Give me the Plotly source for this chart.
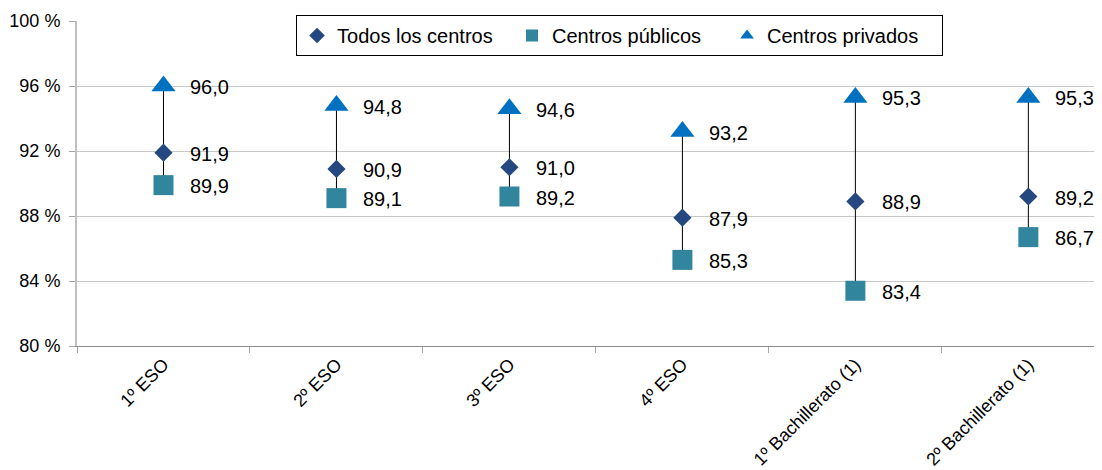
import plotly.graph_objects as go

categories = ["1º ESO", "2º ESO", "3º ESO", "4º ESO", "1º Bachillerato (1)", "2º Bachillerato (1)"]
todos = [91.9, 90.9, 91.0, 87.9, 88.9, 89.2]
publicos = [89.9, 89.1, 89.2, 85.3, 83.4, 86.7]
privados = [96.0, 94.8, 94.6, 93.2, 95.3, 95.3]
y_ticks = [80, 84, 88, 92, 96, 100]
y_tick_labels = [f"{v} %" for v in y_ticks]

FONT = "Liberation Sans, Arial, sans-serif"

fig = go.Figure()

# high-low lines
lx, ly = [], []
for c, a, b, d in zip(categories, todos, publicos, privados):
    lx += [c, c, None]
    ly += [min(a, b, d), max(a, b, d), None]
fig.add_trace(go.Scatter(x=lx, y=ly, mode="lines", line=dict(color="black", width=1),
                         showlegend=False, hoverinfo="skip"))

series = [
    ("Todos los centros", todos, "diamond", "#24487F", 14),
    ("Centros públicos", publicos, "square", "#31859C", 20),
    ("Centros privados", privados, "triangle-up", "#0070C0", 21),
]
for name, vals, sym, col, size in series:
    fig.add_trace(go.Scatter(x=categories, y=vals, mode="markers", name=name,
                             marker=dict(symbol=sym, color=col, size=size, line=dict(width=0))))

annotations = []
for _, vals, _, _, _ in series:
    for c, v in zip(categories, vals):
        annotations.append(dict(x=c, y=v, xref="x", yref="y", text=f"{v:.1f}".replace(".", ","),
                                showarrow=False, xanchor="left", yanchor="middle", xshift=25, yshift=-1,
                                font=dict(family=FONT, size=20, color="black")))

fig.update_layout(
    width=1094, height=462,
    margin=dict(l=69, r=1, t=13, b=124),
    paper_bgcolor="white", plot_bgcolor="white",
    font=dict(family=FONT, size=18, color="black"),
    annotations=annotations,
    showlegend=True,
    legend=dict(orientation="h", x=0.2139, y=1.0185, xanchor="left", yanchor="top",
                bordercolor="black", borderwidth=1, bgcolor="white",
                font=dict(family=FONT, size=20, color="black"), itemsizing="constant",
                itemwidth=30, entrywidth=170, tracegroupgap=0),
    xaxis=dict(type="category", range=[-0.5, 5.42], tickangle=-45, tickson="boundaries",
               ticks="outside", ticklen=6, tickcolor="#A6A6A6", showline=True, linecolor="#8C8C8C",
               linewidth=1, showgrid=False, zeroline=False, automargin=False,
               tickfont=dict(family=FONT, size=18, color="black")),
    yaxis=dict(range=[80, 100], tickmode="array", tickvals=y_ticks, ticktext=y_tick_labels,
               ticks="outside", ticklen=6, ticklabelstandoff=5,
               tickcolor="#A6A6A6", showline=True, linecolor="#BFBFBF", linewidth=2,
               showgrid=True, gridcolor="#C8C8C8", gridwidth=1, zeroline=False, automargin=False,
               tickfont=dict(family=FONT, size=18, color="black")),
)

fig.write_html("out.html")
